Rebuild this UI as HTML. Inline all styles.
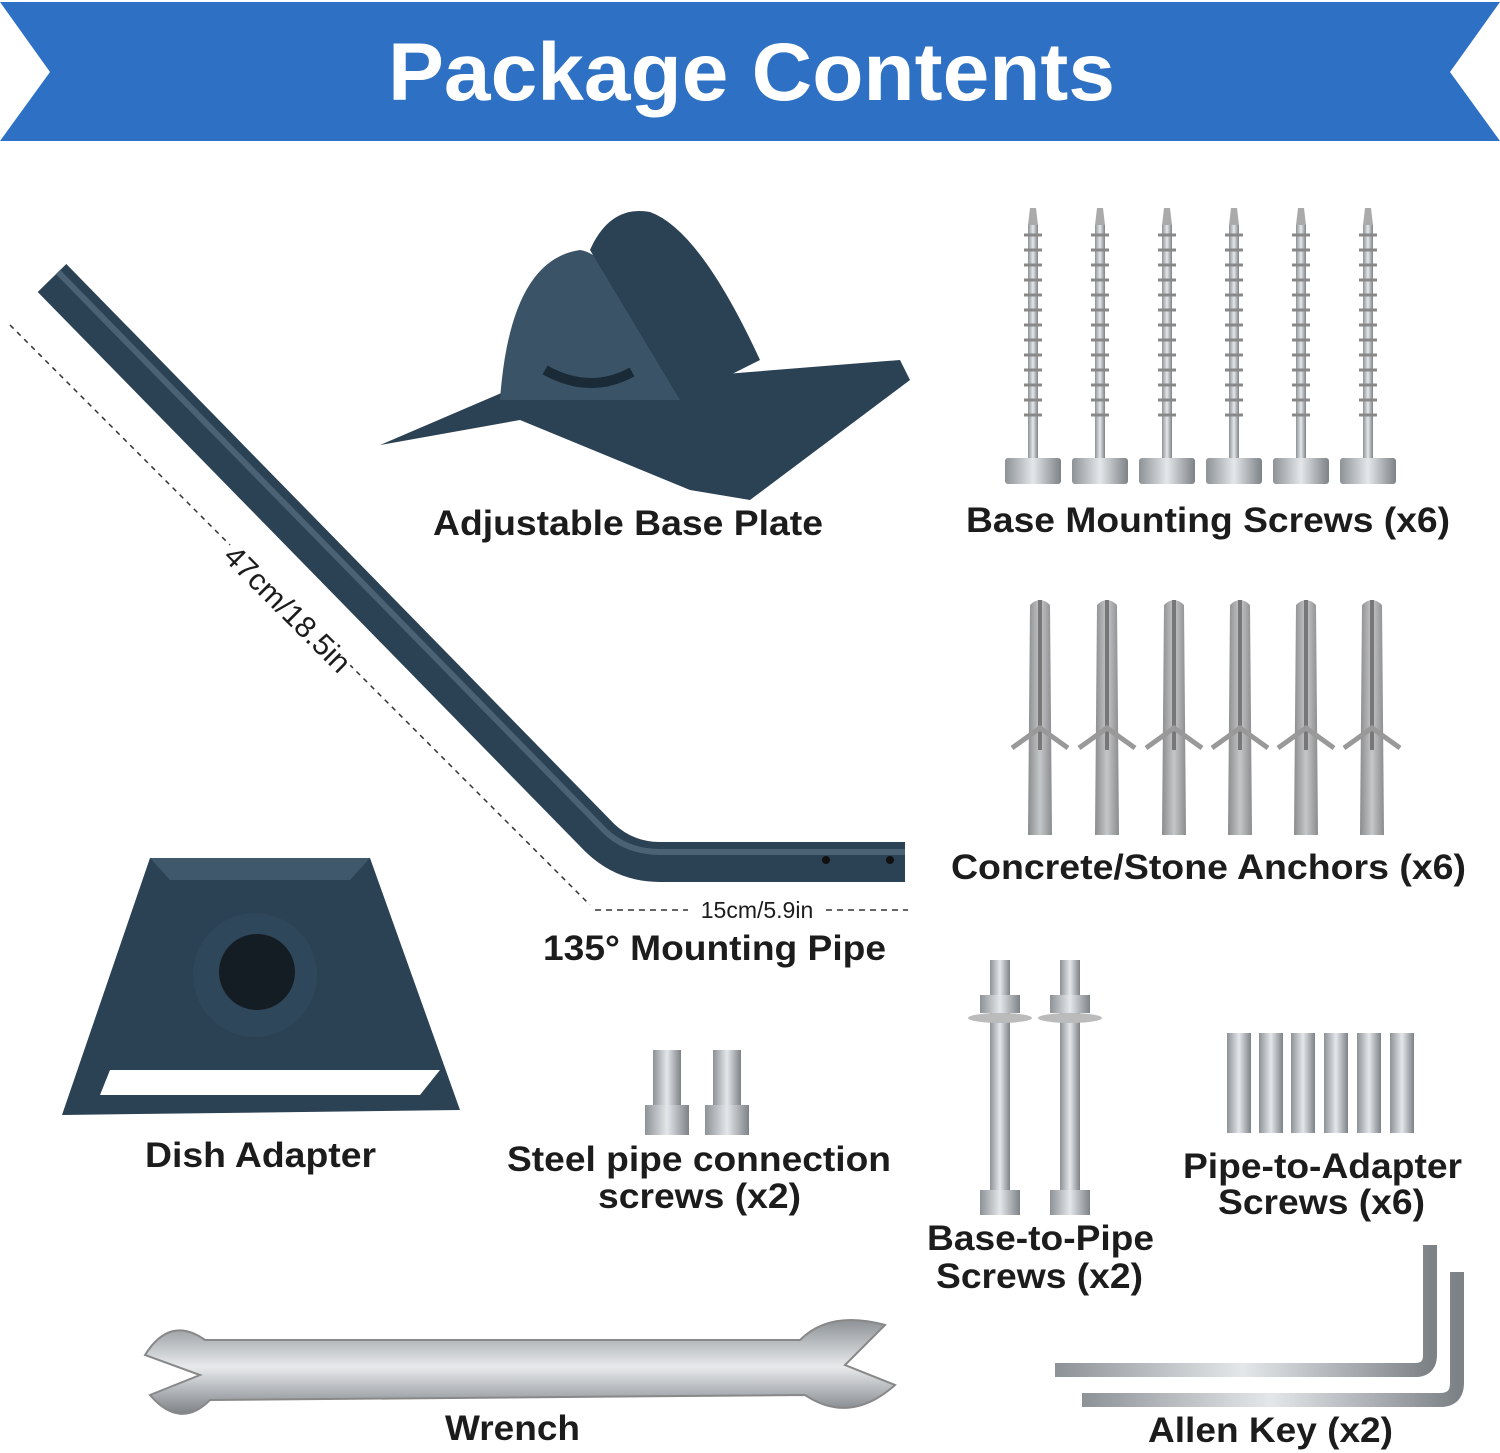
<!DOCTYPE html>
<html><head><meta charset="utf-8"><style>
html,body{margin:0;padding:0;background:#fff;}
svg{display:block}
text{font-family:"Liberation Sans",sans-serif;font-weight:bold;fill:#1c1c1c}
</style></head><body>
<svg width="1500" height="1453" viewBox="0 0 1500 1453" xmlns="http://www.w3.org/2000/svg">
<defs>
<linearGradient id="steel" x1="0" x2="1"><stop offset="0" stop-color="#8d9296"/><stop offset=".5" stop-color="#e4e7ea"/><stop offset="1" stop-color="#7d8287"/></linearGradient>
<linearGradient id="steelv" x1="0" y1="0" x2="0" y2="1"><stop offset="0" stop-color="#8d9296"/><stop offset=".5" stop-color="#e8eaec"/><stop offset="1" stop-color="#7d8287"/></linearGradient>
<linearGradient id="grey" x1="0" x2="1"><stop offset="0" stop-color="#8a8c8e"/><stop offset=".5" stop-color="#c4c6c8"/><stop offset="1" stop-color="#8a8c8e"/></linearGradient>
</defs>
<polygon points="0,2 1500,2 1450,72 1500,141 0,141 50,72" fill="#2e71c4"/>
<text x="388" y="100" font-size="82" textLength="727" lengthAdjust="spacingAndGlyphs" style="fill:#fff">Package Contents</text>

<!-- pipe -->
<path d="M52,278 L600,838 Q625,862 660,862 L905,862" fill="none" stroke="#2b4154" stroke-width="40" stroke-linejoin="round"/>
<path d="M58,272 L606,832 Q628,852 660,852 L905,852" fill="none" stroke="#4b6274" stroke-width="6"/>
<circle cx="826" cy="860" r="4" fill="#111"/><circle cx="890" cy="860" r="4" fill="#111"/>
<line x1="10" y1="325" x2="590" y2="905" stroke="#333" stroke-width="1.5" stroke-dasharray="5,5"/>
<rect x="0" y="-26" width="170" height="34" fill="#fff" transform="translate(220,555) rotate(45)"/>
<text x="0" y="0" font-size="30" transform="translate(222,558) rotate(45)" textLength="165" lengthAdjust="spacingAndGlyphs" style="font-weight:normal">47cm/18.5in</text>
<line x1="595" y1="910" x2="908" y2="910" stroke="#333" stroke-width="1.5" stroke-dasharray="6,5"/>
<rect x="688" y="895" width="135" height="28" fill="#fff"/>
<text x="757" y="918" font-size="23" text-anchor="middle" style="font-weight:normal">15cm/5.9in</text>
<text x="543" y="960" font-size="35" textLength="343" lengthAdjust="spacingAndGlyphs">135° Mounting Pipe</text>

<!-- base plate -->
<polygon points="380,445 520,385 650,380 900,360 910,380 750,500 690,490 520,420" fill="#2b4154"/>
<path d="M500,400 Q510,260 580,250 Q620,255 680,400 Z" fill="#3a5366"/>
<path d="M590,250 Q610,205 650,212 Q700,230 760,360 L680,400 Z" fill="#2b4154"/>
<path d="M545,370 Q590,395 632,372" stroke="#1a2a36" stroke-width="10" fill="none"/>
<text x="433" y="535" font-size="35" textLength="390" lengthAdjust="spacingAndGlyphs">Adjustable Base Plate</text>

<!-- screws -->
<g id="sc">
<rect x="1028" y="225" width="10" height="235" fill="url(#steel)"/>
<path d="M1024,235 h18 M1024,250 h18 M1024,265 h18 M1024,280 h18 M1024,295 h18 M1024,310 h18 M1024,325 h18 M1024,340 h18 M1024,355 h18 M1024,370 h18 M1024,385 h18 M1024,400 h18 M1024,415 h18" stroke="#888" stroke-width="3"/>
<polygon points="1030,208 1036,208 1038,225 1028,225" fill="#aaa"/>
<rect x="1005" y="458" width="56" height="26" rx="3" fill="url(#steel)"/>
</g>
<use href="#sc" x="67"/><use href="#sc" x="134"/><use href="#sc" x="201"/><use href="#sc" x="268"/><use href="#sc" x="335"/>
<text x="966" y="532" font-size="35" textLength="484" lengthAdjust="spacingAndGlyphs">Base Mounting Screws (x6)</text>

<!-- anchors -->
<g id="an">
<path d="M1030,605 Q1040,595 1050,605 L1052,835 L1028,835 Z" fill="url(#grey)"/>
<rect x="1038" y="600" width="4" height="150" fill="#777"/>
<path d="M1012,748 L1040,728 L1068,748" stroke="#999" stroke-width="5" fill="none"/>
</g>
<use href="#an" x="67"/><use href="#an" x="134"/><use href="#an" x="200"/><use href="#an" x="266"/><use href="#an" x="332"/>
<text x="951" y="879" font-size="35" textLength="515" lengthAdjust="spacingAndGlyphs">Concrete/Stone Anchors (x6)</text>

<!-- dish adapter -->
<polygon points="150,858 370,858 460,1110 62,1115" fill="#2b4154"/>
<polygon points="150,858 370,858 350,880 170,880" fill="#3f586b"/>
<polygon points="110,1070 440,1070 420,1095 100,1095" fill="#fff"/>
<circle cx="255" cy="975" r="62" fill="#2f475a"/>
<circle cx="257" cy="972" r="38" fill="#151d24"/>
<text x="145" y="1167" font-size="35" textLength="231" lengthAdjust="spacingAndGlyphs">Dish Adapter</text>

<!-- steel pipe screws -->
<rect x="653" y="1050" width="28" height="60" fill="url(#steel)"/>
<rect x="645" y="1105" width="44" height="30" fill="url(#steel)"/>
<rect x="713" y="1050" width="28" height="60" fill="url(#steel)"/>
<rect x="705" y="1105" width="44" height="30" fill="url(#steel)"/>
<text x="507" y="1171" font-size="35" textLength="384" lengthAdjust="spacingAndGlyphs">Steel pipe connection</text>
<text x="598" y="1208" font-size="35" textLength="203" lengthAdjust="spacingAndGlyphs">screws (x2)</text>

<!-- base to pipe screws -->
<g id="bp">
<rect x="990" y="960" width="20" height="240" fill="url(#steel)"/>
<rect x="980" y="995" width="40" height="18" fill="url(#steel)"/>
<ellipse cx="1000" cy="1018" rx="32" ry="5" fill="#bbb"/>
<rect x="980" y="1190" width="40" height="25" fill="url(#steel)"/>
</g>
<use href="#bp" x="70"/>
<text x="927" y="1250" font-size="35" textLength="227" lengthAdjust="spacingAndGlyphs">Base-to-Pipe</text>
<text x="936" y="1288" font-size="35" textLength="207" lengthAdjust="spacingAndGlyphs">Screws (x2)</text>

<!-- pipe to adapter screws -->
<g id="pa"><rect x="1227" y="1033" width="24" height="100" fill="url(#steel)"/></g>
<use href="#pa" x="32"/><use href="#pa" x="64"/><use href="#pa" x="97"/><use href="#pa" x="130"/><use href="#pa" x="163"/>
<text x="1183" y="1178" font-size="35" textLength="279" lengthAdjust="spacingAndGlyphs">Pipe-to-Adapter</text>
<text x="1218" y="1214" font-size="35" textLength="207" lengthAdjust="spacingAndGlyphs">Screws (x6)</text>

<!-- wrench -->
<path d="M205,1340 L800,1340 Q830,1310 885,1325 L845,1365 L895,1385 Q850,1425 805,1395 L210,1400 Q180,1430 150,1395 L200,1375 L145,1355 Q170,1315 205,1340 Z" fill="url(#steelv)" stroke="#888" stroke-width="2"/>
<text x="445" y="1440" font-size="35" textLength="135" lengthAdjust="spacingAndGlyphs">Wrench</text>

<!-- allen keys -->
<path d="M1430,1245 L1430,1355 Q1430,1370 1415,1370 L1055,1370" fill="none" stroke="url(#steel)" stroke-width="14"/>
<path d="M1457,1272 L1457,1383 Q1457,1400 1440,1400 L1082,1400" fill="none" stroke="url(#steel)" stroke-width="14"/>
<text x="1148" y="1442" font-size="35" textLength="245" lengthAdjust="spacingAndGlyphs">Allen Key (x2)</text>
</svg>
</body></html>
